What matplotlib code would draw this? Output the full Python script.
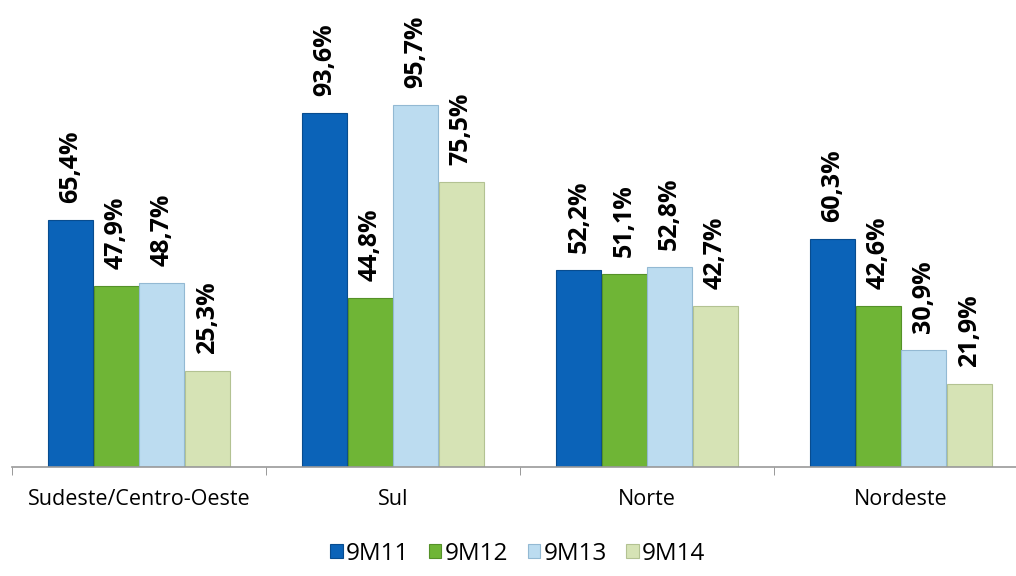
import numpy as np
import matplotlib.pyplot as plt

plt.rcParams['font.family'] = ['Open Sans', 'DejaVu Sans']

regioes = ["Sudeste/Centro-Oeste", "Sul", "Norte", "Nordeste"]
periodos = ["9M11", "9M12", "9M13", "9M14"]
v_9m11 = [65.4, 93.6, 52.2, 60.3]
v_9m12 = [47.9, 44.8, 51.1, 42.6]
v_9m13 = [48.7, 95.7, 52.8, 30.9]
v_9m14 = [25.3, 75.5, 42.7, 21.9]
series = [v_9m11, v_9m12, v_9m13, v_9m14]
cores = ["#0b63b8", "#6fb536", "#bcdcf0", "#d6e3b5"]
bordas = ["#084c8f", "#559128", "#93b9d3", "#b3c292"]

fig = plt.figure(figsize=(10.16, 5.76), dpi=100)
ax = fig.add_axes([12 / 1016, 1 - 467 / 576, 1004 / 1016, 378 / 576])

x = np.arange(len(regioes))
w = 0.178
step = 0.179
for i, vals in enumerate(series):
    pos = x + (i - 1.5) * step
    ax.bar(pos, vals, width=w, color=cores[i], edgecolor=bordas[i], linewidth=0.8,
           label=periodos[i], zorder=2)
    for p, v in zip(pos, vals):
        ax.text(p, v + 4.5, f"{v:.1f}%".replace(".", ","), rotation=90,
                ha="center", va="bottom", fontsize=18, fontweight="bold", color="black")

ax.set_xlim(-0.5, -0.5 + 1004 / 254)
ax.set_ylim(0, 100)
ax.set_yticks([])
ax.set_xticks(x)
ax.set_xticklabels(regioes, fontsize=15.5)
ax.tick_params(axis="x", which="major", length=0, pad=16)
ax.set_xticks([-0.5, 0.5, 1.5, 2.5], minor=True)
ax.tick_params(axis="x", which="minor", length=6, color="#888888", direction="out")
for s in ["top", "right", "left"]:
    ax.spines[s].set_visible(False)
ax.spines["bottom"].set_color("#999999")
ax.spines["bottom"].set_linewidth(1.2)

fig.legend(loc="center", bbox_to_anchor=(518 / 1016, 1 - 554 / 576), ncol=4, frameon=False,
           fontsize=17.5, handlelength=0.5, handleheight=0.5, handletextpad=0.15, columnspacing=0.8)

fig.savefig("out.png", dpi=100)
